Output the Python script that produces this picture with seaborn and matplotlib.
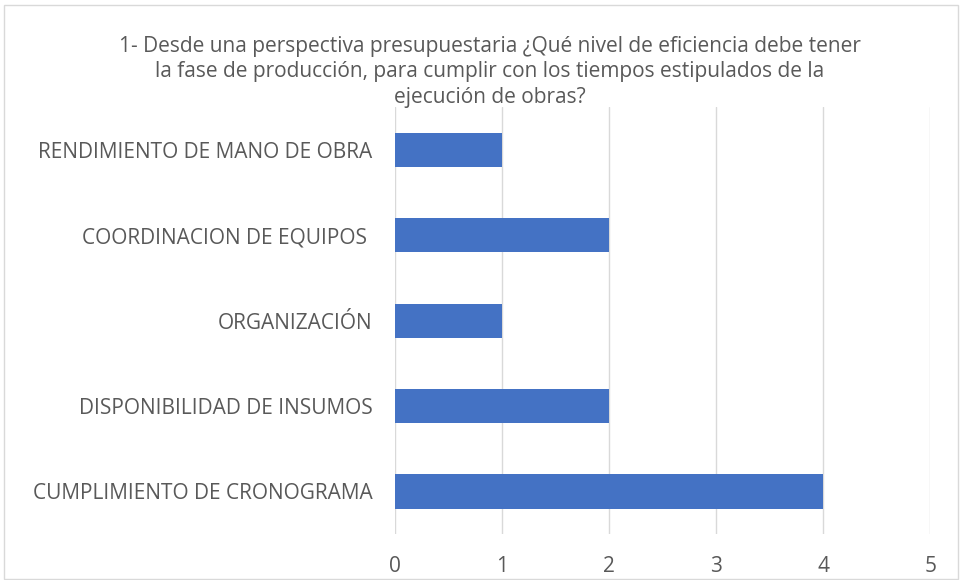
import matplotlib
matplotlib.use("Agg")
import matplotlib.pyplot as plt
import seaborn as sns
import pandas as pd
from matplotlib.patches import Rectangle

# datos del gráfico
categorias = ["RENDIMIENTO DE MANO DE OBRA", "COORDINACION DE EQUIPOS ", "ORGANIZACIÓN",
              "DISPONIBILIDAD DE INSUMOS", "CUMPLIMIENTO DE CRONOGRAMA"]
valores = [1, 2, 1, 2, 4]
ticks_x = [0, 1, 2, 3, 4, 5]
titulo = ("1- Desde una perspectiva presupuestaria ¿Qué nivel de eficiencia debe tener\n"
          "la fase de producción, para cumplir con los tiempos estipulados de la\n"
          "ejecución de obras?")

sns.set_theme(style="white")
plt.rcParams['font.family'] = ['Open Sans', 'DejaVu Sans']

GRIS = "#595959"
df = pd.DataFrame({"categoria": categorias, "valor": valores})

fig = plt.figure(figsize=(9.61, 5.80), dpi=100)
ax = fig.add_axes([0.411, 0.079, 0.557, 0.736])

sns.barplot(data=df, x="valor", y="categoria", color="#4472C4", width=0.4,
            saturation=1, linewidth=0, ax=ax, zorder=3)

ax.set_xlim(0, 5)
ax.set_xticks(ticks_x)
ax.set_xlabel("")
ax.set_ylabel("")
ax.grid(axis="x", color="#D9D9D9", linewidth=1, zorder=0)
for s in ax.spines.values():
    s.set_visible(False)
ax.tick_params(axis="both", length=0, colors=GRIS, labelsize=15)
ax.tick_params(axis="x", pad=16)
ax.tick_params(axis="y", pad=16)

fig.text(0.51, 0.876, titulo, ha="center", va="center", fontsize=15,
         color=GRIS, linespacing=1.3)

# marco del gráfico
fig.patches.append(Rectangle((0.004, 0.002), 0.993, 0.99, transform=fig.transFigure,
                             fill=False, edgecolor="#D9D9D9", linewidth=1))

fig.savefig("out.png", dpi=100)
